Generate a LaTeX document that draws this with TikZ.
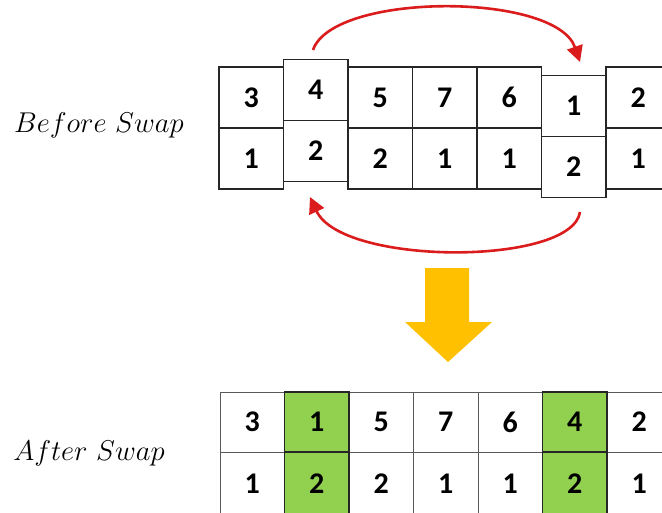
\documentclass[tikz,border=0pt]{standalone}
\usepackage{fontspec}
\usepackage{graphicx}
\newfontfamily\numfont{Carlito}
\usetikzlibrary{arrows.meta}
\definecolor{swapred}{RGB}{218,28,28}
\definecolor{swapgreen}{RGB}{146,208,80}
\definecolor{downgold}{RGB}{255,192,0}
\tikzset{
  cell/.style={draw=black!85, line width=1.1pt, fill=white,
    minimum width=64.5pt, minimum height=61pt, inner sep=0pt,
    font=\numfont\bfseries\fontsize{30}{30}\selectfont},
  lowcell/.style={cell, draw=black!65, line width=0.8pt, minimum height=60pt},
  hitcell/.style={lowcell, fill=swapgreen, draw=black!85, line width=1.2pt},
  swaparrow/.style={draw=swapred, line width=2.6pt,
    -{Triangle[length=16pt,width=16pt]}},
  caption/.style={font=\fontsize{24.88}{28}\selectfont, inner sep=0pt}
}
\newcommand{\captext}[1]{\scalebox{1.15}{$#1$}}
\begin{document}
\begin{tikzpicture}[x=1pt,y=-1pt]
\useasboundingbox (0,0) rectangle (662,512);
\clip (0,0) rectangle (662,512);

% captions
\node[caption] (before) at (99,125) {\captext{Before\ Swap}};
\node[caption] (after) at (89,453) {\captext{After\ Swap}};

% table before the swap (columns 2 and 6 displaced)
\node[cell] (b1t) at (251.25,97.5) {3};
\node[cell] (b1b) at (251.25,158.5) {1};
\node[cell] (b3t) at (380.25,97.5) {5};
\node[cell] (b3b) at (380.25,158.5) {2};
\node[cell] (b4t) at (444.75,97.5) {7};
\node[cell] (b4b) at (444.75,158.5) {1};
\node[cell] (b5t) at (509.25,97.5) {6};
\node[cell] (b5b) at (509.25,158.5) {1};
\node[cell] (b7t) at (638.25,97.5) {2};
\node[cell] (b7b) at (638.25,158.5) {1};
\node[cell] (b2t) at (315.75,90) {4};
\node[cell] (b2b) at (315.75,151) {2};
\node[cell] (b6t) at (573.75,106) {1};
\node[cell] (b6b) at (573.75,167) {2};

% swap arrows
\coordinate (upstart) at (313,50);
\coordinate (upend) at (580,62);
\coordinate (lowstart) at (580,212);
\coordinate (lowend) at (310,197);
\draw[swaparrow] (upstart) .. controls (333,-8) and (556,-8) .. (upend);
\draw[swaparrow] (lowstart) .. controls (572,266) and (342,266) .. (lowend);

% downward block arrow
\fill[downgold] (425,268) -- (469,268) -- (469,322) -- (492,322)
  -- (448,362) -- (405,322) -- (425,322) -- cycle;

% table after the swap (lower row runs past the bottom edge)
\node[lowcell] (a1t) at (252.25,422) {3};
\node[lowcell, minimum height=64pt] (a1b) at (252.25,484) {1};
\node[lowcell] (a3t) at (381.25,422) {5};
\node[lowcell, minimum height=64pt] (a3b) at (381.25,484) {2};
\node[lowcell] (a4t) at (445.75,422) {7};
\node[lowcell, minimum height=64pt] (a4b) at (445.75,484) {1};
\node[lowcell] (a5t) at (510.25,422) {6};
\node[lowcell, minimum height=64pt] (a5b) at (510.25,484) {1};
\node[lowcell] (a7t) at (639.25,422) {2};
\node[lowcell, minimum height=64pt] (a7b) at (639.25,484) {1};
\node[hitcell] (a2t) at (316.75,422) {1};
\node[hitcell, minimum height=64pt] (a2b) at (316.75,484) {2};
\node[hitcell] (a6t) at (574.75,422) {4};
\node[hitcell, minimum height=64pt] (a6b) at (574.75,484) {2};
\end{tikzpicture}
\end{document}
